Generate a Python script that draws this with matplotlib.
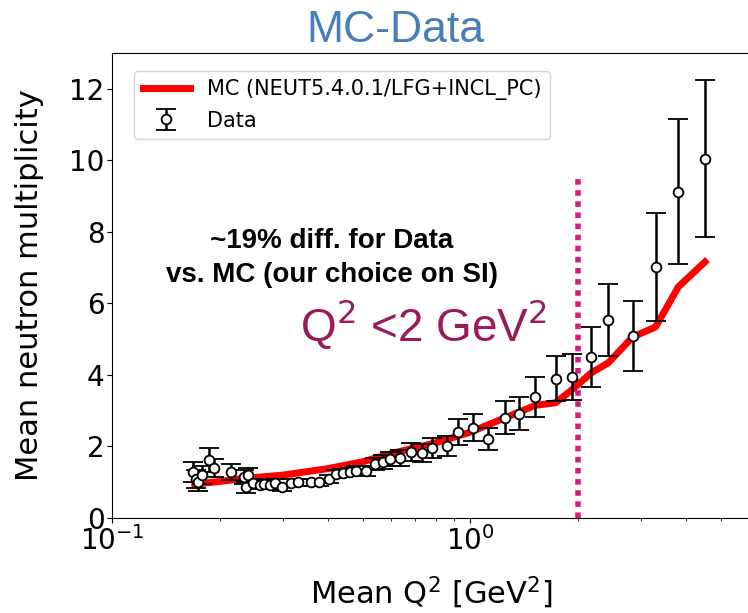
import numpy as np
import matplotlib.pyplot as plt

# data points
q2_data = [0.168, 0.171, 0.174, 0.178, 0.186, 0.193, 0.215, 0.233, 0.237, 0.240,
           0.248, 0.258, 0.266, 0.275, 0.284, 0.298, 0.316, 0.330, 0.359, 0.378,
           0.403, 0.421, 0.440, 0.460, 0.480, 0.511, 0.541, 0.569, 0.598, 0.637,
           0.685, 0.735, 0.783, 0.862, 0.922, 1.02, 1.12, 1.25, 1.37, 1.52,
           1.73, 1.92, 2.18, 2.43, 2.84, 3.29, 3.81, 4.52]
mult_data = [1.29, 1.09, 1.00, 1.20, 1.62, 1.40, 1.29, 1.15, 0.86, 1.20,
             0.98, 0.92, 0.95, 0.92, 0.98, 0.86, 0.98, 1.00, 1.00, 1.00,
             1.09, 1.23, 1.26, 1.29, 1.32, 1.31, 1.51, 1.57, 1.65, 1.68,
             1.85, 1.82, 1.96, 2.01, 2.41, 2.52, 2.21, 2.80, 2.91, 3.38,
             3.89, 3.94, 4.50, 5.54, 5.09, 7.02, 9.12, 10.05]
err_data = [0.28, 0.25, 0.25, 0.25, 0.34, 0.25, 0.22, 0.20, 0.15, 0.20,
            0.12, 0.10, 0.10, 0.10, 0.10, 0.10, 0.10, 0.10, 0.10, 0.10,
            0.12, 0.12, 0.12, 0.12, 0.13, 0.15, 0.18, 0.20, 0.20, 0.22,
            0.25, 0.25, 0.27, 0.28, 0.36, 0.38, 0.31, 0.46, 0.46, 0.56,
            0.63, 0.64, 0.84, 1.00, 0.97, 1.50, 2.03, 2.20]

# MC curve
q2_mc = [0.17, 0.20, 0.23, 0.30, 0.40, 0.50, 0.60, 0.80, 1.00, 1.25,
         1.52, 1.73, 1.92, 2.18, 2.43, 2.84, 3.29, 3.81, 4.52]
mult_mc = [0.95, 1.02, 1.10, 1.20, 1.38, 1.57, 1.80, 2.10, 2.40, 2.80,
           3.15, 3.22, 3.58, 4.06, 4.34, 5.06, 5.34, 6.46, 7.16]

plt.rcParams['mathtext.fontset'] = 'dejavusans'

fig = plt.figure(figsize=(7.48, 6.13), dpi=100)
ax = fig.add_axes([0.150, 0.155, 0.853, 0.7585])

ax.plot(q2_mc, mult_mc, color='red', lw=5, label='MC (NEUT5.4.0.1/LFG+INCL_PC)', zorder=2)
ax.errorbar(q2_data, mult_data, yerr=err_data, fmt='o', color='black', mfc='white',
            mec='black', mew=1.3, ms=7, elinewidth=1.8, capsize=7, capthick=1.8,
            label='Data', zorder=3)
ax.axvline(2.0, ymax=9.5 / 13, color='#d81b7e', lw=4, ls=(0, (1, 1)), zorder=1)

ax.set_xscale('log')
ax.set_xlim(0.1, 6.05)
ax.set_ylim(0, 13)
ax.set_yticks([0, 2, 4, 6, 8, 10, 12])
ax.tick_params(labelsize=20, pad=2)
ax.set_xlabel('Mean Q$^2$ [GeV$^2$]', fontsize=22, labelpad=14)
ax.set_ylabel('Mean neutron multiplicity', fontsize=22, labelpad=18)
ax.spines['right'].set_visible(False)

ax.legend(loc='upper left', fontsize=15, handlelength=2.3, labelspacing=0.5,
          borderaxespad=0, bbox_to_anchor=(22 / 638, 447 / 465))

fig.text(395 / 748, 1 - 30 / 613, 'MC-Data', color='#4a7ebb', fontsize=32,
         family='Liberation Sans', ha='center', va='center')
fig.text(332 / 748, 1 - 258 / 613, '~19% diff. for Data\nvs. MC (our choice on SI)',
         color='black', fontsize=20, family='Liberation Sans', weight='bold',
         ha='center', va='center', linespacing=1.35)
fig.text(424 / 748, 1 - 324 / 613, 'Q$^2$ <2 GeV$^2$', color='#9a1a5c', fontsize=33,
         family='Liberation Sans', ha='center', va='center')

fig.savefig('out.png', dpi=100)
